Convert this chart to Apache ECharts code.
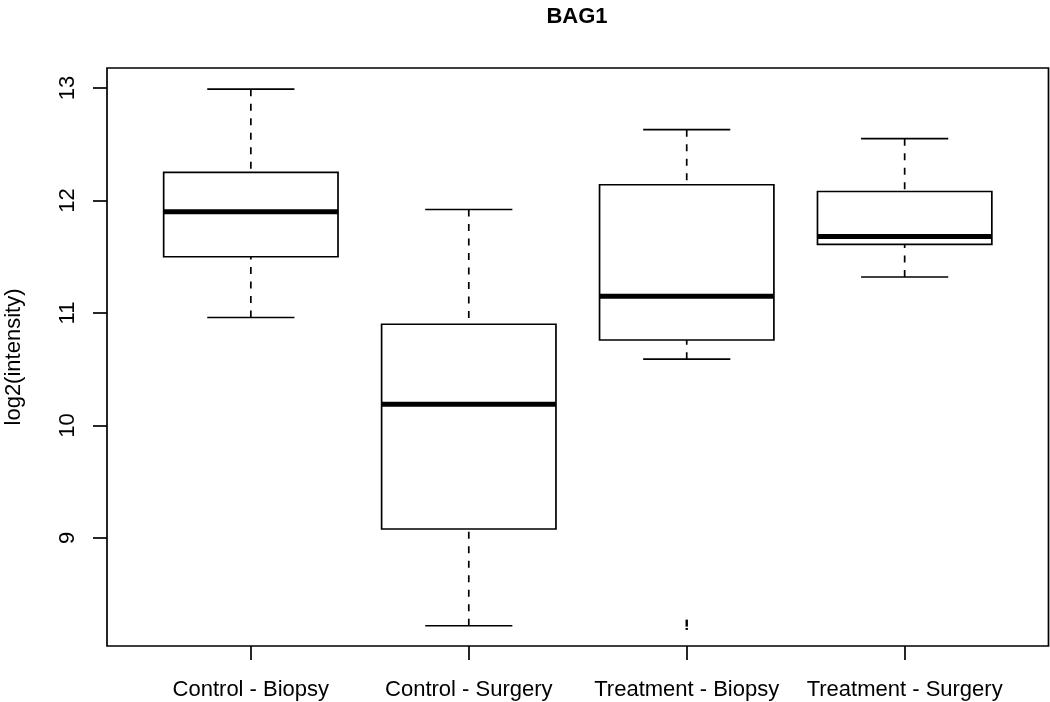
<!DOCTYPE html>
<html>
<head>
<meta charset="utf-8">
<script src="https://cdn.jsdelivr.net/npm/echarts@6/dist/echarts.min.js"></script>
<style>
html,body{margin:0;padding:0;background:#fff;}
#chart{width:1050px;height:702px;}
</style>
</head>
<body>
<div id="chart"></div>
<script>
// ---- data ----
const categories = ['Control - Biopsy', 'Control - Surgery', 'Treatment - Biopsy', 'Treatment - Surgery'];
const whiskerLow  = [10.96, 8.22, 10.59, 11.32];
const q1          = [11.50, 9.08, 10.76, 11.61];
const medians     = [11.90, 10.19, 11.15, 11.68];
const q3          = [12.25, 10.90, 12.14, 12.08];
const whiskerHigh = [12.99, 11.92, 12.63, 12.55];
const outlierGroup = [3];
const outlierValue = [8.23];
const yTicks = [9, 10, 11, 12, 13];
const xTicks = [1, 2, 3, 4];
const titleText = 'BAG1';
const yAxisTitle = 'log2(intensity)';

const FONT = '"Liberation Sans", Arial, Helvetica, sans-serif';
const LW = 1.7;

const boxData = categories.map((c, i) => [i + 1, whiskerLow[i], q1[i], medians[i], q3[i], whiskerHigh[i]]);
const outData = outlierGroup.map((g, i) => [g, outlierValue[i]]);

const chart = echarts.init(document.getElementById('chart'), null, {renderer: 'canvas'});

chart.setOption({
  backgroundColor: '#ffffff',
  animation: false,
  title: {
    text: titleText,
    left: 572,
    top: 1,
    textAlign: 'center',
    textStyle: {fontFamily: FONT, fontSize: 22, fontWeight: 'bold', color: '#000'}
  },
  grid: {
    left: 107, right: 1.5, top: 68, bottom: 56,
    outerBoundsMode: 'none',
    containLabel: false,
    show: true, borderColor: '#000', borderWidth: LW, backgroundColor: 'transparent'
  },
  xAxis: {
    type: 'value',
    min: 0.34, max: 4.66,
    axisLine: {show: false},
    splitLine: {show: false},
    axisTick: {show: true, customValues: xTicks, length: 14, lineStyle: {color: '#000', width: LW}},
    axisLabel: {
      customValues: xTicks,
      margin: 33,
      fontFamily: FONT, fontSize: 22, color: '#000',
      formatter: v => categories[Math.round(v) - 1]
    }
  },
  yAxis: {
    type: 'value',
    min: 8.04, max: 13.178,
    name: yAxisTitle,
    nameLocation: 'middle',
    nameGap: 82,
    nameRotate: 90,
    nameTextStyle: {fontFamily: FONT, fontSize: 22, color: '#000'},
    axisLine: {show: false},
    splitLine: {show: false},
    axisTick: {show: true, customValues: yTicks, length: 14, lineStyle: {color: '#000', width: LW}},
    axisLabel: {
      customValues: yTicks,
      rotate: 90,
      margin: 28,
      fontFamily: FONT, fontSize: 22, color: '#000'
    }
  },
  series: [
    {
      type: 'custom',
      data: boxData,
      encode: {x: 0, y: [1, 2, 3, 4, 5]},
      renderItem: function (params, api) {
        const x = api.value(0);
        const lo = api.coord([x, api.value(1)]);
        const b1 = api.coord([x, api.value(2)]);
        const md = api.coord([x, api.value(3)]);
        const b3 = api.coord([x, api.value(4)]);
        const hi = api.coord([x, api.value(5)]);
        const half = api.size([0.4, 0])[0];
        const cap = half / 2;
        const cx = lo[0];
        const solid = {stroke: '#000', lineWidth: LW, fill: null};
        const dashed = {stroke: '#000', lineWidth: LW, lineDash: [7, 7.5], fill: null};
        return {
          type: 'group',
          children: [
            {type: 'line', shape: {x1: cx, y1: lo[1], x2: cx, y2: b1[1]}, style: dashed},
            {type: 'line', shape: {x1: cx, y1: hi[1], x2: cx, y2: b3[1]}, style: dashed},
            {type: 'line', shape: {x1: cx - cap, y1: lo[1], x2: cx + cap, y2: lo[1]}, style: solid},
            {type: 'line', shape: {x1: cx - cap, y1: hi[1], x2: cx + cap, y2: hi[1]}, style: solid},
            {type: 'rect', shape: {x: cx - half, y: b3[1], width: 2 * half, height: b1[1] - b3[1]},
              style: {stroke: '#000', lineWidth: LW, fill: '#fff'}},
            {type: 'line', shape: {x1: cx - half, y1: md[1], x2: cx + half, y2: md[1]},
              style: {stroke: '#000', lineWidth: 5, fill: null}}
          ]
        };
      },
      z: 2
    },
    {
      type: 'custom',
      data: outData,
      encode: {x: 0, y: 1},
      renderItem: function (params, api) {
        const p = api.coord([api.value(0), api.value(1)]);
        return {
          type: 'group',
          children: [
            {type: 'rect', shape: {x: p[0] - 1.2, y: p[1] - 5, width: 2.4, height: 7}, style: {fill: '#000'}},
            {type: 'rect', shape: {x: p[0] - 1.2, y: p[1] + 3.3, width: 2.4, height: 2}, style: {fill: '#000'}}
          ]
        };
      },
      z: 3
    }
  ]
});
</script>
</body>
</html>
